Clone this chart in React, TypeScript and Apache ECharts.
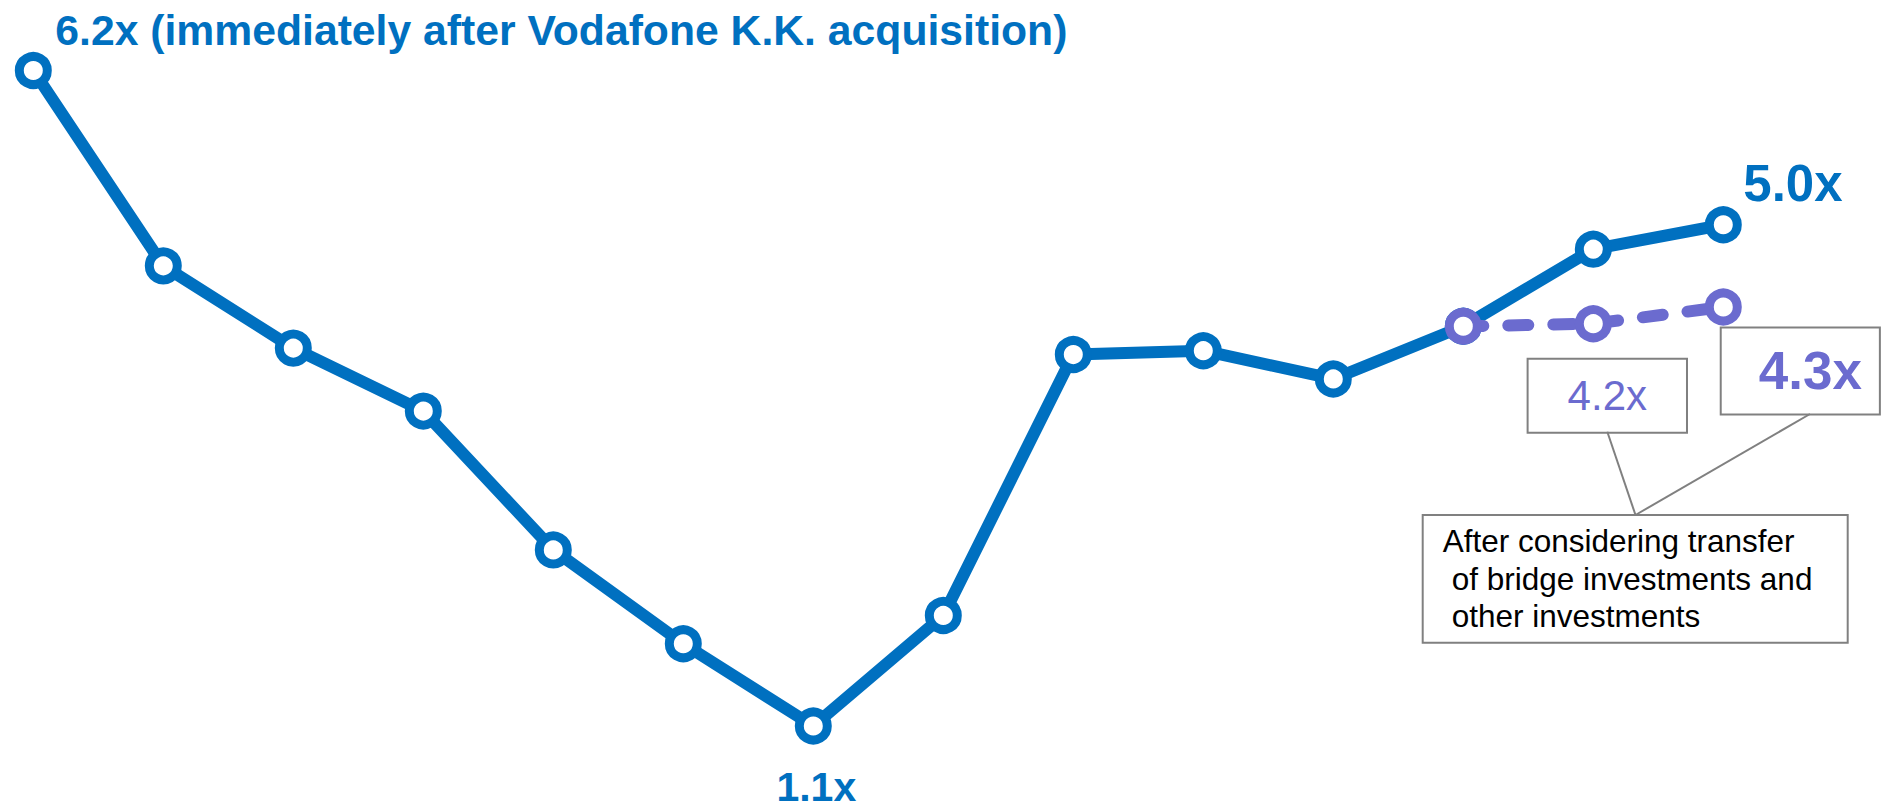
import React, { useEffect, useRef } from "react";
import * as echarts from "echarts";

// Periods along the x axis (axis hidden in the reference)
const periods = ["P1", "P2", "P3", "P4", "P5", "P6", "P7", "P8", "P9", "P10", "P11", "P12", "P13", "P14"];
// Main ratio series (x)
const ratioValues = [6.2, 4.68, 4.04, 3.55, 2.47, 1.74, 1.1, 1.96, 3.99, 4.02, 3.8, 4.21, 4.81, 5.0];
// Adjusted series (after transfer of bridge investments etc.), starts at P12
const adjustedValues: (number | null)[] = [null, null, null, null, null, null, null, null, null, null, null, 4.21, 4.23, 4.36];
// Label texts
const ratioLabels: Record<number, string> = {
  0: "6.2x (immediately after Vodafone K.K. acquisition)",
  6: "1.1x",
  13: "5.0x",
};
const adjustedLabels: Record<number, string> = {
  12: "4.2x",
  13: "4.3x",
};
const noteLines = ["After considering transfer", "of bridge investments and", "other investments"];

const BLUE = "#0070C0";
const PURPLE = "#6B6BCF";
const GRAY = "#808080";
const FONT = "'Liberation Sans', Arial, sans-serif";

export default function App() {
  const ref = useRef<HTMLDivElement>(null);
  useEffect(() => {
    if (!ref.current) return;
    const chart = echarts.init(ref.current, undefined, { renderer: "svg" });

    const ratioLabelStyle: Record<number, any> = {
      0: { align: "left", offset: [22, -41], fontSize: 42.7 },
      6: { align: "center", offset: [3, 61], fontSize: 41 },
      13: { align: "left", offset: [20, -41], fontSize: 51 },
    };
    const adjLabelStyle: Record<number, any> = {
      12: {
        offset: [14, 72], fontSize: 42, fontWeight: "normal", lineHeight: 42,
        padding: [15, 39, 15, 39],
      },
      13: {
        offset: [77, 64], fontSize: 53, fontWeight: "bold", lineHeight: 53,
        padding: [16, 17, 16, 37],
      },
    };

    const mainData = ratioValues.map((v, i) => {
      const t = ratioLabels[i];
      if (t === undefined) return { value: v };
      return {
        value: v,
        label: {
          show: true,
          position: "inside",
          formatter: t,
          color: BLUE,
          fontWeight: "bold",
          fontFamily: FONT,
          verticalAlign: "middle",
          ...ratioLabelStyle[i],
        },
      };
    });

    const adjData = adjustedValues.map((v, i) => {
      const t = adjustedLabels[i];
      if (t === undefined || v === null) return { value: v };
      return {
        value: v,
        label: {
          show: true,
          position: "inside",
          formatter: t,
          color: PURPLE,
          fontFamily: FONT,
          align: "center",
          verticalAlign: "middle",
          backgroundColor: "#ffffff",
          borderColor: GRAY,
          borderWidth: 2,
          ...adjLabelStyle[i],
        },
      };
    });

    const noteTexts = noteLines.map((line, i) => ({
      type: "text",
      x: i === 0 ? 1442.7 : 1451.7,
      y: [540.7, 579, 615.7][i],
      z: 10,
      style: {
        text: line,
        fill: "#000000",
        font: `31.5px ${FONT}`,
        verticalAlign: "middle",
        align: "left",
      },
    }));

    chart.setOption({
      animation: false,
      backgroundColor: "#ffffff",
      grid: { left: 33.3, right: 157.7, top: 70.5, bottom: 79, containLabel: false },
      xAxis: { type: "category", data: periods, boundaryGap: false, show: false },
      yAxis: { type: "value", min: 1.1, max: 6.2, show: false },
      series: [
        {
          type: "line",
          data: mainData,
          z: 2,
          symbol: "circle",
          symbolSize: 28,
          lineStyle: { color: BLUE, width: 12, cap: "round", join: "round" },
          itemStyle: { color: "#ffffff", borderColor: BLUE, borderWidth: 9 },
        },
        {
          type: "line",
          data: adjData,
          z: 3,
          symbol: "circle",
          symbolSize: 28,
          lineStyle: { color: PURPLE, width: 12, type: [20, 25], cap: "round" },
          itemStyle: { color: "#ffffff", borderColor: PURPLE, borderWidth: 9 },
        },
      ],
      graphic: [
        {
          type: "line",
          z: 5,
          shape: { x1: 1607.3, y1: 431.7, x2: 1635.5, y2: 515 },
          style: { stroke: GRAY, lineWidth: 2 },
        },
        {
          type: "line",
          z: 5,
          shape: { x1: 1810, y1: 414, x2: 1635.5, y2: 515 },
          style: { stroke: GRAY, lineWidth: 2 },
        },
        {
          type: "rect",
          z: 6,
          shape: { x: 1422.7, y: 515, width: 425, height: 127.7 },
          style: { fill: "#ffffff", stroke: GRAY, lineWidth: 2 },
        },
        ...noteTexts,
      ],
    });
    return () => chart.dispose();
  }, []);
  return (
    <div
      ref={ref}
      style={{ position: "fixed", left: 0, top: 0, width: "1881px", height: "805px" }}
    />
  );
}
